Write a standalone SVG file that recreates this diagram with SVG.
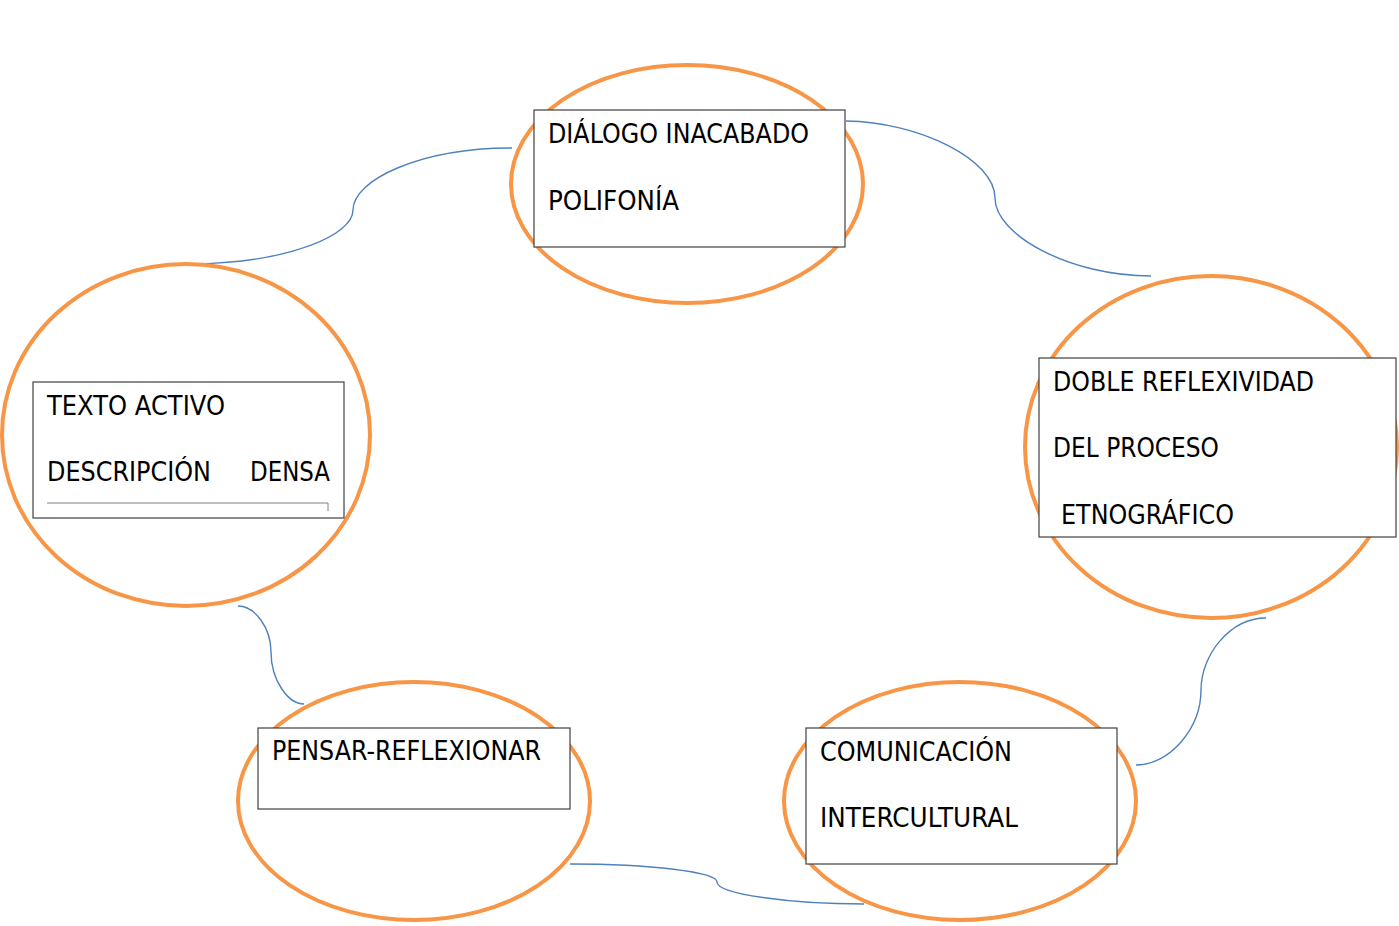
<svg xmlns="http://www.w3.org/2000/svg" width="1399" height="926" viewBox="0 0 1399 926">
<style>
.ell{fill:none;stroke:#F79646;stroke-width:4}
.box{fill:#fff;stroke:#404040;stroke-width:1.2}
.t{font-family:"DejaVu Sans","Liberation Sans",sans-serif;font-size:26px;fill:#000}
.con{fill:none;stroke:#4F81BD;stroke-width:1.4}
</style>
<rect width="1399" height="926" fill="#fff"/>
<g id="connectors">
<path class="con" d="M196,264 C290,262 353,235 353,210 C353,180 420,148 512,148"/>
<path class="con" d="M846,121 C920,122 995,160 995,198 C995,235 1070,276 1151,276"/>
<path class="con" d="M1266,618 C1230,618 1201,655 1201,690 C1201,728 1170,765 1136,765"/>
<path class="con" d="M570,864 C650,864 717,872 717,882 C717,894 790,904 864,904"/>
<path class="con" d="M238,606 C255,606 271,628 271,652 C271,680 288,704 304,704"/>
</g>
<g id="node-dialogo">
<ellipse class="ell" cx="687" cy="184" rx="176" ry="119"/>
<rect class="box" x="534" y="110" width="311" height="137"/>
<text class="t" x="548" y="143" textLength="261" lengthAdjust="spacingAndGlyphs">DIÁLOGO INACABADO</text>
<text class="t" x="548" y="210" textLength="131" lengthAdjust="spacingAndGlyphs">POLIFONÍA</text>
</g>
<g id="node-texto">
<ellipse class="ell" cx="186" cy="435" rx="184" ry="171"/>
<rect class="box" x="33" y="382" width="311" height="136"/>
<text class="t" x="47" y="415" textLength="178" lengthAdjust="spacingAndGlyphs">TEXTO ACTIVO</text>
<text class="t" x="47" y="481" textLength="164" lengthAdjust="spacingAndGlyphs">DESCRIPCIÓN</text>
<text class="t" x="250" y="481" textLength="80" lengthAdjust="spacingAndGlyphs">DENSA</text>
<path d="M47,503 H328 V511" fill="none" stroke="#808080" stroke-width="1"/>
</g>
<g id="node-doble">
<ellipse class="ell" cx="1211" cy="447" rx="186" ry="171"/>
<rect class="box" x="1039" y="358" width="357" height="179"/>
<text class="t" x="1053" y="391" textLength="261" lengthAdjust="spacingAndGlyphs">DOBLE REFLEXIVIDAD</text>
<text class="t" x="1053" y="457" textLength="166" lengthAdjust="spacingAndGlyphs">DEL PROCESO</text>
<text class="t" x="1061" y="524" textLength="173" lengthAdjust="spacingAndGlyphs">ETNOGRÁFICO</text>
</g>
<g id="node-pensar">
<ellipse class="ell" cx="414" cy="801" rx="176" ry="119"/>
<rect class="box" x="258" y="728" width="312" height="81"/>
<text class="t" x="272" y="760" textLength="269" lengthAdjust="spacingAndGlyphs">PENSAR-REFLEXIONAR</text>
</g>
<g id="node-comunicacion">
<ellipse class="ell" cx="960" cy="801" rx="176" ry="119"/>
<rect class="box" x="806" y="728" width="311" height="136"/>
<text class="t" x="820" y="761" textLength="192" lengthAdjust="spacingAndGlyphs">COMUNICACIÓN</text>
<text class="t" x="820" y="827" textLength="198" lengthAdjust="spacingAndGlyphs">INTERCULTURAL</text>
</g>
</svg>
